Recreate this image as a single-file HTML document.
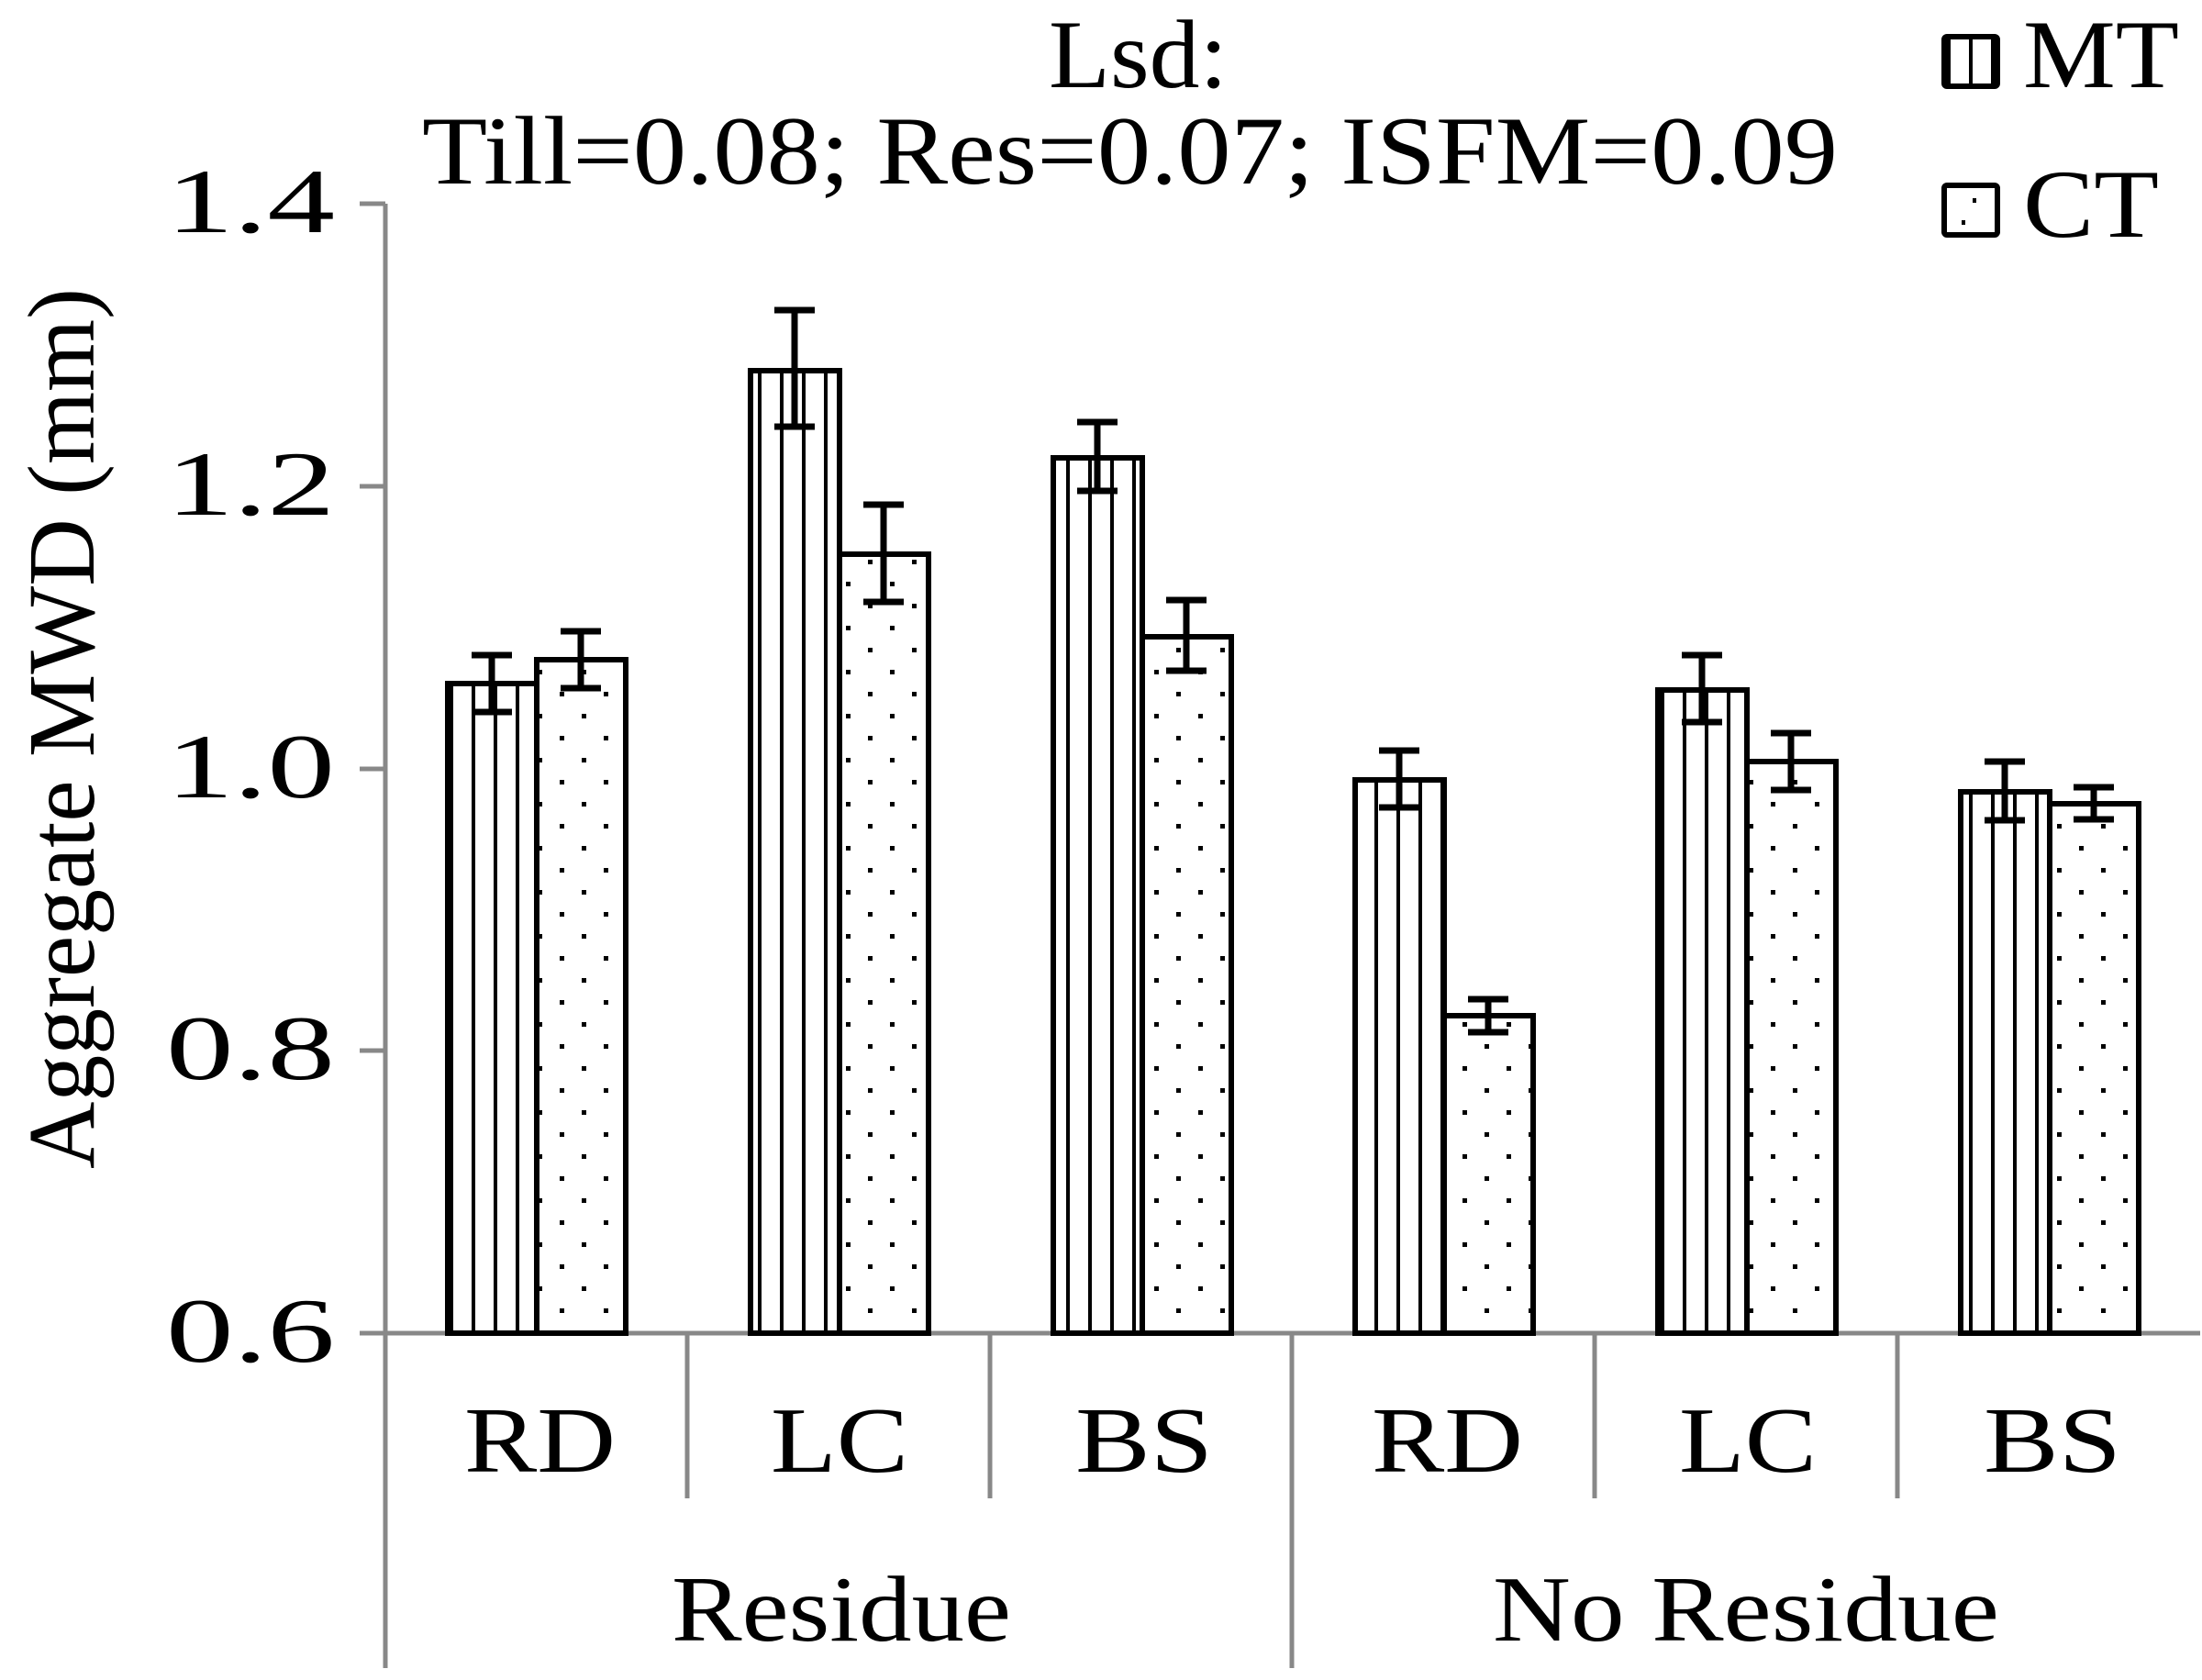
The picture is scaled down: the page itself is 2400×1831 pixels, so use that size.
<!DOCTYPE html>
<html><head><meta charset="utf-8"><style>html,body{margin:0;padding:0;background:#fff}svg{display:block}svg text{font-family:"Liberation Serif","Times New Roman",serif}</style></head>
<body>
<svg width="2400" height="1831" viewBox="0 0 2400 1831" xmlns="http://www.w3.org/2000/svg" style="font-family:'Liberation Serif',serif">
<defs>
<pattern id="vl" patternUnits="userSpaceOnUse" width="24" height="10" x="0" y="0">
<rect x="10" y="0" width="4" height="10" fill="#000"/>
</pattern>
<pattern id="dt" patternUnits="userSpaceOnUse" width="48" height="48">
<rect x="10" y="10" width="5" height="5" fill="#000"/>
<rect x="34" y="34" width="5" height="5" fill="#000"/>
</pattern>
</defs>
<rect width="2400" height="1831" fill="#fff"/>
<g stroke="#888" stroke-width="5">
<line x1="420" y1="222" x2="420" y2="1818"/>
<line x1="392" y1="1453" x2="2398" y2="1453"/>
<line x1="392" y1="222" x2="420" y2="222"/>
<line x1="392" y1="530" x2="420" y2="530"/>
<line x1="392" y1="838" x2="420" y2="838"/>
<line x1="392" y1="1145" x2="420" y2="1145"/>
<line x1="749" y1="1453" x2="749" y2="1633"/>
<line x1="1079" y1="1453" x2="1079" y2="1633"/>
<line x1="1738" y1="1453" x2="1738" y2="1633"/>
<line x1="2068" y1="1453" x2="2068" y2="1633"/>
<line x1="1408" y1="1453" x2="1408" y2="1818"/>
</g>
<g font-size="100" text-anchor="end" fill="#000">
<text x="365" y="253" textLength="184" lengthAdjust="spacingAndGlyphs">1.4</text>
<text x="365" y="561" textLength="184" lengthAdjust="spacingAndGlyphs">1.2</text>
<text x="365" y="869" textLength="184" lengthAdjust="spacingAndGlyphs">1.0</text>
<text x="365" y="1176" textLength="184" lengthAdjust="spacingAndGlyphs">0.8</text>
<text x="365" y="1484" textLength="184" lengthAdjust="spacingAndGlyphs">0.6</text>
</g>
<text transform="translate(102,1274) rotate(-90)" font-size="104" textLength="960" lengthAdjust="spacingAndGlyphs">Aggregate  MWD (mm)</text>
<g font-size="102" fill="#000">
<text x="506" y="1604" textLength="165" lengthAdjust="spacingAndGlyphs">RD</text>
<text x="840" y="1604" textLength="150" lengthAdjust="spacingAndGlyphs">LC</text>
<text x="1172" y="1604" textLength="150" lengthAdjust="spacingAndGlyphs">BS</text>
<text x="1495" y="1604" textLength="165" lengthAdjust="spacingAndGlyphs">RD</text>
<text x="1830" y="1604" textLength="150" lengthAdjust="spacingAndGlyphs">LC</text>
<text x="2162" y="1604" textLength="150" lengthAdjust="spacingAndGlyphs">BS</text>
<text x="732" y="1788" textLength="370" lengthAdjust="spacingAndGlyphs">Residue</text>
<text x="1627" y="1788" textLength="552" lengthAdjust="spacingAndGlyphs">No Residue</text>
</g>
<g font-size="106" fill="#000">
<text x="1143" y="95" textLength="195" lengthAdjust="spacingAndGlyphs">Lsd:</text>
<text x="460" y="200" textLength="1543" lengthAdjust="spacingAndGlyphs">Till=0.08;  Res=0.07; ISFM=0.09</text>
<text x="2205" y="95" textLength="170" lengthAdjust="spacingAndGlyphs">MT</text>
<text x="2205" y="258" textLength="148" lengthAdjust="spacingAndGlyphs">CT</text>
</g>
<rect x="2119" y="40" width="58" height="54" fill="url(#vl)" stroke="#000" stroke-width="6" rx="3"/>
<rect x="2119" y="202" width="58" height="54" fill="#fff" stroke="#000" stroke-width="6" rx="3"/>
<rect x="2150" y="216" width="4" height="5" fill="#000"/>
<rect x="2138" y="240" width="4" height="5" fill="#000"/>
<g stroke="#000" stroke-width="6">
<rect x="488" y="745" width="97" height="708" fill="url(#vl)"/>
<rect x="585" y="719" width="97" height="734" fill="url(#dt)"/>
<rect x="818" y="404" width="97" height="1049" fill="url(#vl)"/>
<rect x="915" y="604" width="97" height="849" fill="url(#dt)"/>
<rect x="1148" y="499" width="97" height="954" fill="url(#vl)"/>
<rect x="1245" y="694" width="97" height="759" fill="url(#dt)"/>
<rect x="1477" y="850" width="97" height="603" fill="url(#vl)"/>
<rect x="1574" y="1107" width="97" height="346" fill="url(#dt)"/>
<rect x="1807" y="752" width="97" height="701" fill="url(#vl)"/>
<rect x="1904" y="830" width="97" height="623" fill="url(#dt)"/>
<rect x="2137" y="863" width="97" height="590" fill="url(#vl)"/>
<rect x="2234" y="876" width="97" height="577" fill="url(#dt)"/>
</g>
<g stroke="#000" stroke-width="7" fill="none">
<path d="M536 714V776M514 714H558M514 776H558"/>
<path d="M633 688V750M611 688H655M611 750H655"/>
<path d="M866 338V465M844 338H888M844 465H888"/>
<path d="M963 550V656M941 550H985M941 656H985"/>
<path d="M1196 460V535M1174 460H1218M1174 535H1218"/>
<path d="M1293 654V731M1271 654H1315M1271 731H1315"/>
<path d="M1525 818V880M1503 818H1547M1503 880H1547"/>
<path d="M1622 1089V1125M1600 1089H1644M1600 1125H1644"/>
<path d="M1855 714V787M1833 714H1877M1833 787H1877"/>
<path d="M1952 799V861M1930 799H1974M1930 861H1974"/>
<path d="M2185 830V894M2163 830H2207M2163 894H2207"/>
<path d="M2282 858V893M2260 858H2304M2260 893H2304"/>
</g>
</svg>
</body></html>
